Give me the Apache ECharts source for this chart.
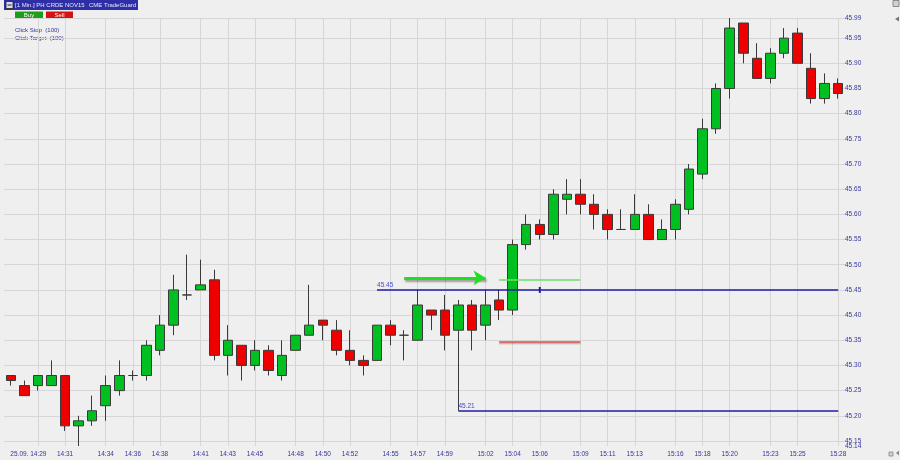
<!DOCTYPE html>
<html><head><meta charset="utf-8">
<script src="https://cdn.jsdelivr.net/npm/echarts@6/dist/echarts.min.js"></script>
<style>html,body{margin:0;padding:0;background:#efefef}#c{width:900px;height:460px}</style>
</head><body><div id="c"></div>
<script>
const times = ['14:27','14:28','14:29','14:30','14:31','14:32','14:33','14:34','14:35','14:36','14:37','14:38','14:39','14:40','14:41','14:42','14:43','14:44','14:45','14:46','14:47','14:48','14:49','14:50','14:51','14:52','14:53','14:54','14:55','14:56','14:57','14:58','14:59','15:00','15:01','15:02','15:03','15:04','15:05','15:06','15:07','15:08','15:09','15:10','15:11','15:12','15:13','15:14','15:15','15:16','15:17','15:18','15:19','15:20','15:21','15:22','15:23','15:24','15:25','15:26','15:27','15:28'];
const opens  = [45.28,45.26,45.26,45.26,45.28,45.18,45.19,45.22,45.25,45.28,45.28,45.33,45.38,45.44,45.45,45.47,45.32,45.34,45.30,45.33,45.28,45.33,45.36,45.39,45.37,45.33,45.31,45.31,45.38,45.36,45.35,45.41,45.41,45.37,45.42,45.38,45.43,45.41,45.54,45.58,45.56,45.63,45.64,45.62,45.60,45.57,45.57,45.60,45.55,45.57,45.61,45.68,45.77,45.85,45.98,45.91,45.87,45.92,45.96,45.89,45.83,45.86];
const closes = [45.27,45.24,45.28,45.28,45.18,45.19,45.21,45.26,45.28,45.28,45.34,45.38,45.45,45.44,45.46,45.32,45.35,45.30,45.33,45.29,45.32,45.36,45.38,45.38,45.33,45.31,45.30,45.38,45.36,45.36,45.42,45.40,45.36,45.42,45.37,45.42,45.41,45.54,45.58,45.56,45.64,45.64,45.62,45.60,45.57,45.57,45.60,45.55,45.57,45.62,45.69,45.77,45.85,45.97,45.92,45.87,45.92,45.95,45.90,45.83,45.86,45.84];
const lows   = [45.26,45.24,45.25,45.26,45.17,45.14,45.18,45.19,45.24,45.27,45.27,45.32,45.36,45.43,45.45,45.31,45.28,45.27,45.29,45.28,45.27,45.33,45.36,45.35,45.32,45.30,45.28,45.31,45.34,45.31,45.35,45.37,45.33,45.21,45.33,45.35,45.39,45.40,45.53,45.55,45.55,45.60,45.60,45.57,45.55,45.57,45.57,45.55,45.55,45.55,45.60,45.67,45.76,45.83,45.90,45.87,45.86,45.91,45.90,45.82,45.82,45.83];
const highs  = [45.28,45.27,45.28,45.31,45.28,45.20,45.24,45.28,45.31,45.29,45.35,45.40,45.48,45.52,45.51,45.49,45.38,45.34,45.35,45.34,45.35,45.36,45.46,45.39,45.39,45.37,45.32,45.38,45.39,45.37,45.45,45.41,45.44,45.43,45.43,45.45,45.45,45.55,45.60,45.59,45.65,45.67,45.67,45.64,45.61,45.61,45.64,45.62,45.59,45.63,45.70,45.79,45.86,45.99,45.98,45.94,45.93,45.97,45.97,45.92,45.88,45.87];

const labelTimes = ['14:29','14:31','14:34','14:36','14:38','14:41','14:43','14:45','14:48','14:50','14:52','14:55','14:57','14:59','15:02','15:04','15:06','15:09','15:11','15:13','15:16','15:18','15:20','15:23','15:25','15:28'];
const datePrefix = '25.09. ';
const yLabels = [45.14,45.15,45.20,45.25,45.30,45.35,45.40,45.45,45.50,45.55,45.60,45.65,45.70,45.75,45.80,45.85,45.90,45.95,45.99];
const gridValues = [45.15,45.20,45.25,45.30,45.35,45.40,45.45,45.50,45.55,45.60,45.65,45.70,45.75,45.80,45.85,45.90,45.95,45.99];
const yMin = 45.14, yMax = 45.99;

const stopLevel = 45.45, stopStart = '14:54';
const lowLevel = 45.21, lowStart = '15:00';
const arrowLevel = 45.474, arrowFrom = '14:56', arrowTo = '15:02';
const targetLevel = 45.471, stopOrderLevel = 45.347, orderFrom = '15:03', orderTo = '15:09';
const markerTime = '15:06';
const lastPrice = 45.84;

const FONT = 'Liberation Sans, Arial, sans-serif';
const TXT = '#35359c';
const candleData = times.map((t, i) => [opens[i], closes[i], lows[i], highs[i]]);

const yBase = {
  type: 'value', position: 'right', min: yMin, max: yMax,
  axisLine: {show: false}, axisTick: {show: false}, splitLine: {show: false}
};

const chart = echarts.init(document.getElementById('c'), null, {renderer: 'canvas'});
chart.setOption({
  backgroundColor: '#efefef',
  animation: false,
  grid: {left: 4, right: 55, top: 18, bottom: 14},
  xAxis: {
    type: 'category', data: times, boundaryGap: true,
    axisLine: {show: false}, axisTick: {show: false}, splitLine: {show: false},
    axisLabel: {
      interval: (idx, val) => labelTimes.indexOf(val) >= 0,
      margin: 5, fontSize: 6.5, fontFamily: FONT, color: TXT,
      formatter: v => v === labelTimes[0] ? '{a|' + datePrefix + v + '}{s|}' : v,
      rich: {a: {fontSize: 6.5, fontFamily: FONT, color: TXT}, s: {width: 19}}
    }
  },
  yAxis: [
    Object.assign({}, yBase, {
      axisLabel: {customValues: yLabels.filter(v => v !== yMin), margin: 0, fontSize: 6.5, fontFamily: FONT, color: TXT,
        hideOverlap: false, showMinLabel: true, showMaxLabel: true, formatter: v => v.toFixed(2)}
    }),
    Object.assign({}, yBase, {
      axisLabel: {customValues: yLabels.filter(v => v === yMin), margin: 0, fontSize: 6.5, fontFamily: FONT, color: TXT,
        hideOverlap: false, showMinLabel: true, padding: [3, 0, 0, 0], formatter: v => v.toFixed(2)}
    })
  ],
  graphic: [
    {type: 'rect', shape: {x: 4, y: 0, width: 134, height: 10}, style: {fill: '#2e2ea6'}},
    {type: 'rect', shape: {x: 6, y: 1.5, width: 7, height: 7}, style: {fill: '#dcdce8', stroke: '#222', lineWidth: 0.8}},
    {type: 'line', shape: {x1: 7.5, y1: 5, x2: 11.5, y2: 5}, style: {stroke: '#222', lineWidth: 1}},
    {type: 'text', x: 15, y: 5.5, style: {text: '[1 Min.] PH CRDE NOV15', fontSize: 6, fontFamily: FONT, fill: '#e6e6ff', verticalAlign: 'middle'}},
    {type: 'text', x: 89, y: 5.5, style: {text: 'CME TradeGuard', fontSize: 6, fontFamily: FONT, fill: '#e6e6ff', verticalAlign: 'middle'}},
    {type: 'rect', shape: {x: 15, y: 11.5, width: 28, height: 7}, style: {fill: '#1c9e1c'}},
    {type: 'text', x: 29, y: 15.3, style: {text: 'Buy', fontSize: 6, fontFamily: FONT, fill: '#ffffff', align: 'center', verticalAlign: 'middle'}},
    {type: 'rect', shape: {x: 46, y: 11.5, width: 27, height: 7}, style: {fill: '#d41414'}},
    {type: 'text', x: 59.5, y: 15.3, style: {text: 'Sell', fontSize: 6, fontFamily: FONT, fill: '#ffffff', align: 'center', verticalAlign: 'middle'}},
    {type: 'text', x: 15, y: 30.7, style: {text: 'Click Stop  (100)', fontSize: 6, fontFamily: FONT, fill: TXT, verticalAlign: 'middle'}},
    {type: 'text', x: 15, y: 38.5, style: {text: 'Click Target  (100)', fontSize: 6, fontFamily: FONT, fill: TXT, verticalAlign: 'middle'}},
    {type: 'rect', shape: {x: 893, y: 0.5, width: 6, height: 6}, style: {fill: '#d0d0d0', stroke: '#777', lineWidth: 0.8}},
    {type: 'polygon', shape: {points: [[895, 19], [899, 16.5], [899, 21.5]]}, style: {fill: '#777'}},
    {type: 'rect', shape: {x: 889, y: 452, width: 4, height: 4}, style: {fill: '#d0d0d0', stroke: '#888', lineWidth: 0.8}},
    {type: 'polygon', shape: {points: [[896, 453], [899, 450.5], [899, 455.5]]}, style: {fill: '#888'}}
  ],
  series: [
    {
      name: 'grid', type: 'line', data: [], z: 0, silent: true,
      markLine: {
        z: 0, silent: true, symbol: ['none', 'none'], animation: false,
        label: {show: false},
        lineStyle: {color: '#d6d6d6', width: 1, type: 'solid'},
        data: labelTimes.map(t => ({xAxis: t})).concat(gridValues.map(v => ({yAxis: v})))
      }
    },
    {
      name: 'PH CRDE NOV15', type: 'candlestick', data: candleData, barWidth: 10, z: 2,
      itemStyle: {color: '#00c021', color0: '#ee0000', borderColor: '#3a3a3a', borderColor0: '#3a3a3a', borderColorDoji: '#3a3a3a', borderWidth: 1}
    },
    {
      name: 'annotations', type: 'line', data: [], z: 5, silent: true,
      markLine: {
        z: 6, silent: true, animation: false, symbol: ['none', 'none'],
        data: [
          [{coord: [stopStart, stopLevel], lineStyle: {color: '#1c1ca6', width: 1.5, type: 'solid'},
            label: {show: true, position: 'insideStartTop', formatter: stopLevel.toFixed(2), fontSize: 6.5, fontFamily: FONT, color: '#4848c8', distance: [0, 1]}},
           {coord: [times[times.length - 1], stopLevel]}],
          [{coord: [lowStart, lowLevel], lineStyle: {color: '#1c1ca6', width: 1.5, type: 'solid'},
            label: {show: true, position: 'insideStartTop', formatter: lowLevel.toFixed(2), fontSize: 6.5, fontFamily: FONT, color: '#4848c8', distance: [0, 1]}},
           {coord: [times[times.length - 1], lowLevel]}],
          [{coord: [orderFrom, targetLevel], lineStyle: {color: '#66e266', width: 1.5, type: 'solid'}, label: {show: false}},
           {coord: [orderTo, targetLevel]}],
          [{coord: [orderFrom, stopOrderLevel], lineStyle: {color: '#e24848', width: 1.5, type: 'solid', shadowColor: 'rgba(0,0,0,0.25)', shadowOffsetY: 1.5, shadowBlur: 1}, label: {show: false}},
           {coord: [orderTo, stopOrderLevel]}],
          [{coord: [arrowFrom, arrowLevel], symbol: 'none', lineStyle: {color: '#22dd22', width: 3, type: 'solid', shadowColor: 'rgba(0,0,0,0.35)', shadowOffsetY: 2, shadowOffsetX: 1, shadowBlur: 2}, label: {show: false}},
           {coord: [arrowTo, arrowLevel], symbol: 'arrow', symbolSize: [11, 12]}],
          [{yAxis: lastPrice, lineStyle: {opacity: 0, width: 0},
            label: {show: true, position: 'end', distance: 0, formatter: lastPrice.toFixed(2), fontSize: 6.5, fontFamily: FONT, color: '#333',
              backgroundColor: '#ffffc4', borderColor: '#c9c99a', borderWidth: 0.8, padding: [1.5, 2, 1, 2]}},
           {yAxis: lastPrice}]
        ]
      },
      markPoint: {
        z: 6, silent: true, animation: false, symbol: 'rect', symbolSize: [2, 6], label: {show: false},
        itemStyle: {color: '#1c1ca6'},
        data: [{coord: [markerTime, stopLevel]}]
      }
    }
  ]
});
</script></body></html>
